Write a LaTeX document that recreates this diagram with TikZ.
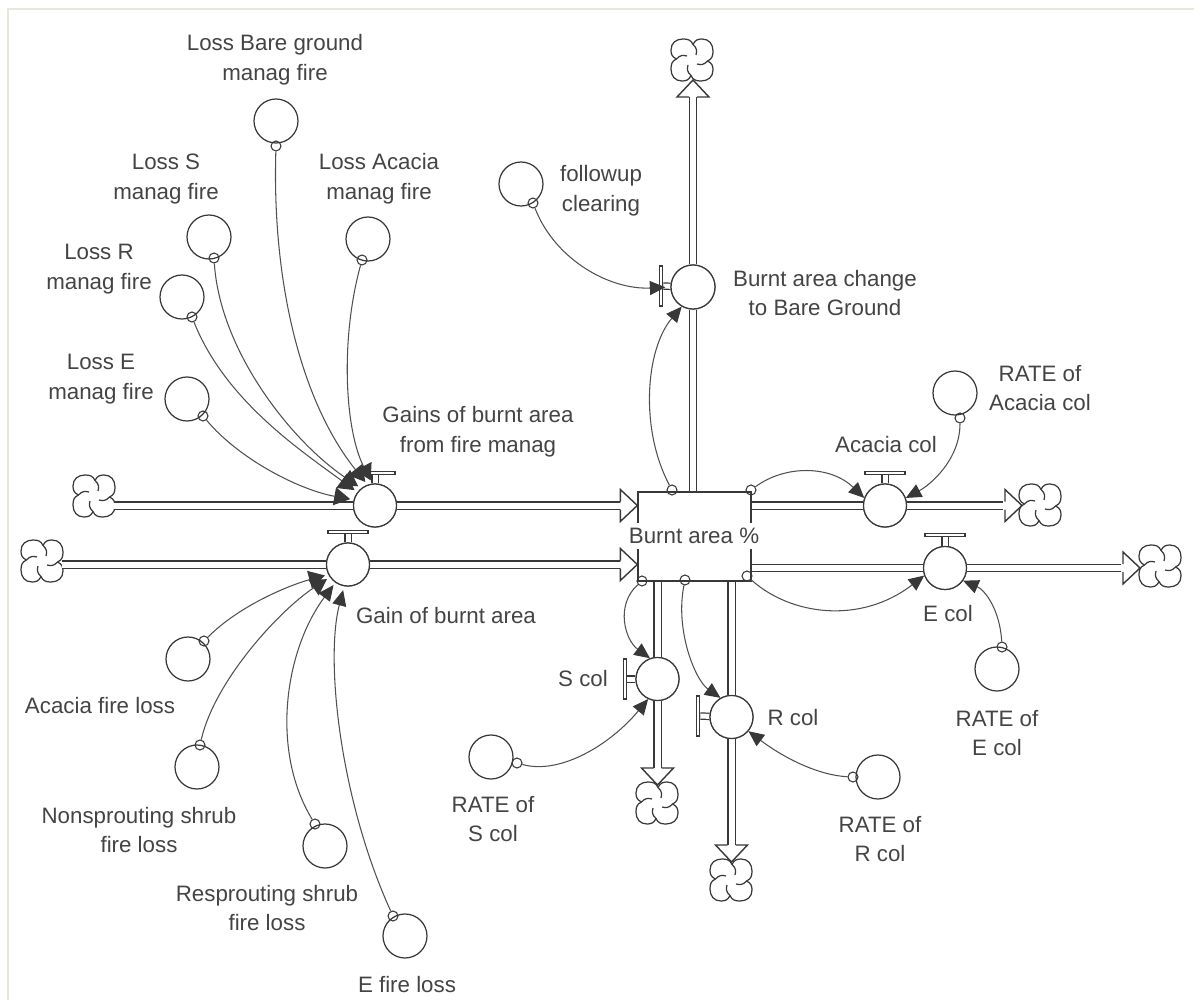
\documentclass[tikz,border=0pt]{standalone}
\usepackage{fontspec}
\setmainfont{Liberation Sans}
\usetikzlibrary{arrows.meta,calc}
\definecolor{ink}{HTML}{383838}
\definecolor{thin}{HTML}{505050}
\definecolor{txt}{HTML}{444444}
\definecolor{frame}{HTML}{E9E7DC}
\newcommand{\pxu}{0.02cm}
\tikzset{
  x=0.02cm,y=-0.02cm,
  aux/.style={circle,draw=ink,fill=white,line width=0.7pt,minimum size=44*\pxu,inner sep=0pt},
  rate/.style={circle,draw=ink,fill=white,line width=0.7pt,minimum size=43*\pxu,inner sep=0pt},
  tiny/.style={circle,draw=ink,line width=0.6pt,minimum size=10*\pxu,inner sep=0pt},
  lab/.style={text=txt,align=center,font=\fontsize{12.7pt}{17pt}\selectfont,inner sep=0pt},
  stock/.style={rectangle,draw=ink,fill=white,line width=0.75pt,minimum width=113*\pxu,minimum height=89*\pxu,inner sep=0pt},
  pipe/.style={draw=ink,line width=0.8pt,double=white,double distance=6*\pxu},
  link/.style={draw=thin,line width=0.6pt,-{Triangle[length=0.31cm,width=0.28cm,fill=ink,color=ink]}},
  linkwide/.style={draw=thin,line width=0.6pt,shorten >=3.5*\pxu,-{Triangle[length=0.32cm,width=0.36cm,fill=ink,color=ink]}},
  hbar/.style={rectangle,draw=ink,fill=white,line width=0.7pt,minimum width=40*\pxu,minimum height=3.5*\pxu,inner sep=0pt},
  vbar/.style={rectangle,draw=ink,fill=white,line width=0.7pt,minimum width=3.5*\pxu,minimum height=40*\pxu,inner sep=0pt},
  anchorpt/.style={circle,minimum size=40*\pxu,inner sep=0pt},
  swirl/.pic={
    \foreach \a in {0,90,180,270}{
      \draw[ink,line width=0.7pt,rotate=\a]
        (1,-15.5) .. controls (3,-20) and (6,-21) .. (10,-21)
        .. controls (17,-21) and (21,-16) .. (21,-9)
        .. controls (21,-4) and (20,-1) .. (15.5,1)
        (15.5,1) .. controls (12,5) and (9,5) .. (5,4);
    }
  },
  head/.pic={
    \filldraw[draw=ink,fill=white,line width=0.8pt] (-17,-4) -- (-17,-16) -- (0,0) -- (-17,16) -- (-17,4);
  }
}
\begin{document}
\begin{tikzpicture}
\useasboundingbox (0,0) rectangle (1194,1000);
\draw[frame,line width=0.8pt] (8,1010) -- (8,9) -- (1204,9);

% clouds
\node[anchorpt] (cA) at (94,496) {};   \pic at (cA) {swirl};
\node[anchorpt] (cB) at (42,561) {};   \pic at (cB) {swirl};
\node[anchorpt] (cT) at (692,60) {};   \pic at (cT) {swirl};
\node[anchorpt] (cC) at (1040,505) {}; \pic at (cC) {swirl};
\node[anchorpt] (cE) at (1160,566) {}; \pic at (cE) {swirl};
\node[anchorpt] (cS) at (657,803) {};  \pic at (cS) {swirl};
\node[anchorpt] (cR) at (731,880) {};  \pic at (cR) {swirl};

% stock and valves (positions)
\node[stock] (box) at (694.5,536.5) {};
\node[rate] (vGains) at (375,505.5) {};
\node[rate] (vGain)  at (348,564.5) {};
\node[aux]  (vBare)  at (693,287) {};
\node[rate] (vAca)   at (885,505.5) {};
\node[rate] (vE)     at (945,568) {};
\node[rate] (vS)     at (657.5,679) {};
\node[rate] (vR)     at (731.5,717) {};

% pipes
\draw[pipe] (vGains.west -| cA.east) -- (vGains.west);
\draw[pipe] (vGains.east) -- ($(vGains.east -| box.west)+(-16,0)$);
\draw[pipe] (vGain.west -| cB.east) -- (vGain.west);
\draw[pipe] (vGain.east) -- ($(vGain.east -| box.west)+(-16,0)$);
\draw[pipe] (vBare.north) -- ($(vBare.north |- cT.south)+(0,17)$);
\draw[pipe] (vBare.south) -- (vBare.south |- box.north);
\draw[pipe] (vAca.west) -- (vAca.west -| box.east);
\draw[pipe] (vAca.east) -- ($(vAca.east -| cC.west)+(-17,0)$);
\draw[pipe] (vE.west) -- (vE.west -| box.east);
\draw[pipe] (vE.east) -- ($(vE.east -| cE.west)+(-19,0)$);
\draw[pipe] (vS.north) -- (vS.north |- box.south);
\draw[pipe] (vS.south) -- (657.5,768);
\draw[pipe] (vR.north) -- (vR.north |- box.south);
\draw[pipe] (vR.south) -- (731.5,845);

% hollow pipe heads
\pic at (vGains -| box.west) {head};
\pic at (vGain -| box.west) {head};
\pic[rotate=90] at (693,80) {head};
\pic at (1022,505.5) {head};
\pic at (1140,568) {head};
\pic[rotate=-90] at (657.5,785) {head};
\pic[rotate=-90] at (731.5,862) {head};

% valve bars
\node[hbar] (bGains) at (375,473) {};
\node[hbar] (bGain)  at (348,532) {};
\node[hbar] (bAca)   at (885,473) {};
\node[hbar] (bE)     at (945,535) {};
\node[vbar] (bBare)  at (661,286) {};
\node[vbar] (bS)     at (625,679) {};
\node[vbar] (bR)     at (698,716) {};
\foreach \p/\q in {bGains/vGains,bGain/vGain,bAca/vAca,bE/vE,bBare/vBare,bS/vS,bR/vR}{
  \draw[draw=ink,line width=0.7pt,double=white,double distance=5*\pxu] (\p) -- (\q);
}
\node[hbar] at (bGains) {};
\node[hbar] at (bGain) {};
\node[hbar] at (bAca) {};
\node[hbar] at (bE) {};
\node[vbar] at (bBare) {};
\node[vbar] at (bS) {};
\node[vbar] at (bR) {};
\node[rate] at (vGains) {};
\node[rate] at (vGain) {};
\node[aux]  at (vBare) {};
\node[rate] at (vAca) {};
\node[rate] at (vE) {};
\node[rate] at (vS) {};
\node[rate] at (vR) {};

% auxiliaries
\node[aux] (aBare) at (276,121) {};
\node[aux] (aS)    at (209,237) {};
\node[aux] (aAca)  at (368,239) {};
\node[aux] (aR)    at (182,297) {};
\node[aux] (aE)    at (187,399) {};
\node[aux] (aFol)  at (521,184) {};
\node[aux] (aRA)   at (955,393) {};
\node[aux] (aRE)   at (997,669) {};
\node[aux] (aRS)   at (491,757) {};
\node[aux] (aRR)   at (878,777) {};
\node[aux] (aFA)   at (188,659) {};
\node[aux] (aFN)   at (197,767) {};
\node[aux] (aFR)   at (325,846) {};
\node[aux] (aFE)   at (405,936) {};

% connector origins
\node[tiny] (sBare) at (276,146) {};
\node[tiny] (sS)    at (214,258) {};
\node[tiny] (sAca)  at (362,260) {};
\node[tiny] (sR)    at (192,317) {};
\node[tiny] (sE)    at (203,416) {};
\node[tiny] (sFol)  at (533,203) {};
\node[tiny] (sB1)   at (672,490) {};
\node[tiny] (sB2)   at (751,490) {};
\node[tiny] (sB3)   at (747,576) {};
\node[tiny] (sB4)   at (642,581) {};
\node[tiny] (sB5)   at (685,580) {};
\node[tiny] (sRA)   at (960,418) {};
\node[tiny] (sRE)   at (1002,647) {};
\node[tiny] (sRS)   at (517,763) {};
\node[tiny] (sRR)   at (853,777) {};
\node[tiny] (sFA)   at (204,641) {};
\node[tiny] (sFN)   at (200,745) {};
\node[tiny] (sFR)   at (315,824) {};
\node[tiny] (sFE)   at (393,916) {};

% connectors
\draw[linkwide] (sBare) .. controls (272,280) and (300,400) .. (vGains.110);
\draw[linkwide] (sS) .. controls (220,350) and (290,440) .. (vGains.129);
\draw[linkwide] (sAca) .. controls (340,340) and (345,430) .. (vGains.97);
\draw[linkwide] (sR) .. controls (225,400) and (300,450) .. (vGains.143);
\draw[linkwide] (sE) .. controls (240,460) and (300,490) .. (vGains.165);
\draw[link,shorten >=5*\pxu] (sFol) .. controls (555,260) and (610,290) .. (vBare.west);
\draw[link] (sB1) .. controls (640,430) and (645,350) .. (vBare.-120);
\draw[link] (sB2) .. controls (785,465) and (830,465) .. (vAca.160);
\draw[link] (sRA) .. controls (960,460) and (930,485) .. (vAca.20);
\draw[link] (sB3) .. controls (790,615) and (860,625) .. (vE.200);
\draw[link] (sRE) .. controls (1000,610) and (985,590) .. (vE.-35);
\draw[link] (sB4) .. controls (615,605) and (625,640) .. (vS.110);
\draw[link] (sRS) .. controls (560,775) and (610,745) .. (vS.-115);
\draw[link] (sB5) .. controls (675,630) and (695,680) .. (vR.120);
\draw[link] (sRR) .. controls (815,775) and (780,755) .. (vR.-40);
\draw[linkwide] (sFA) .. controls (240,605) and (290,585) .. (vGain.207);
\draw[linkwide] (sFN) .. controls (215,680) and (280,610) .. (vGain.215);
\draw[link,shorten >=3*\pxu] (sFR) .. controls (270,750) and (285,650) .. (vGain.-125);
\draw[link,shorten >=4*\pxu] (sFE) .. controls (340,800) and (325,660) .. (vGain.-100);

% labels
\node[lab,fill=white,inner ysep=3pt] (lBox) at (694,536) {Burnt area \%};
\node[lab] (l1) at (275,60) {Loss Bare ground\\manag fire};
\node[lab] (l2) at (166,179) {Loss S\\manag fire};
\node[lab] (l3) at (379,179) {Loss Acacia\\manag fire};
\node[lab] (l4) at (99,269) {Loss R\\manag fire};
\node[lab] (l5) at (101,379) {Loss E\\manag fire};
\node[lab] (l6) at (478,432) {Gains of burnt area\\from fire manag};
\node[lab] (l7) at (446,616) {Gain of burnt area};
\node[lab] (l8) at (601,191) {followup\\clearing};
\node[lab] (l9) at (825,293) {Burnt area change\\to Bare Ground};
\node[lab] (l10) at (1040,388) {RATE of\\Acacia col};
\node[lab] (l11) at (886,445) {Acacia col};
\node[lab] (l12) at (948,614) {E col};
\node[lab] (l13) at (997,733) {RATE of\\E col};
\node[lab] (l14) at (583,679) {S col};
\node[lab] (l15) at (793,718) {R col};
\node[lab] (l16) at (493,819) {RATE of\\S col};
\node[lab] (l17) at (880,839) {RATE of\\R col};
\node[lab] (l18) at (100,706) {Acacia fire loss};
\node[lab] (l19) at (139,830) {Nonsprouting shrub\\fire loss};
\node[lab] (l20) at (267,908) {Resprouting shrub\\fire loss};
\node[lab] (l21) at (407,985) {E fire loss};
\end{tikzpicture}
\end{document}
